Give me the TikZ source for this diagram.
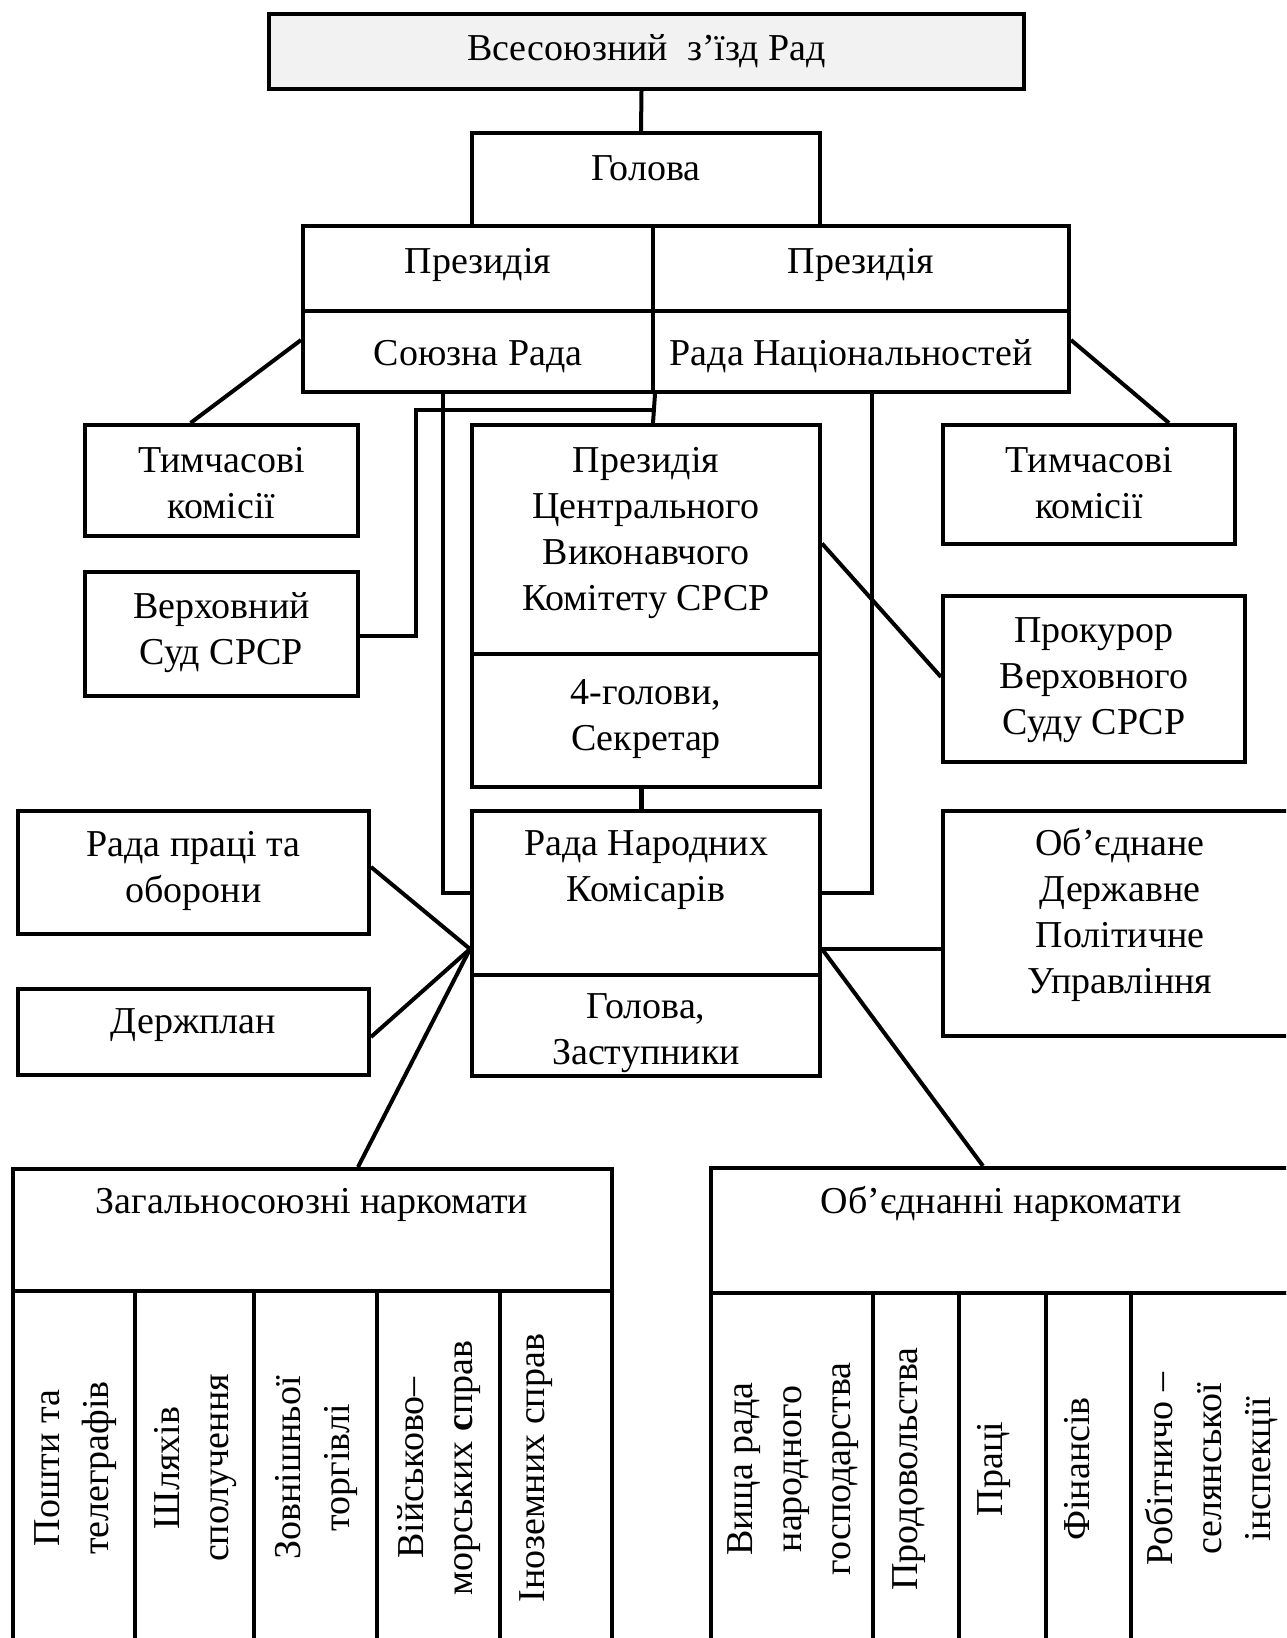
\documentclass[tikz,border=0pt]{standalone}
\usepackage{fontspec}
\setmainfont{Liberation Serif}
\usepackage{graphicx}
\definecolor{topgray}{RGB}{242,242,242}
\newcommand{\mylbl}[2][0pt]{\raisebox{#1}[\height][\depth]{\begin{tabular}{@{}c@{}}#2\end{tabular}}}
\newcommand{\myvlbl}[2][0pt]{\rotatebox{90}{\fontsize{38}{49}\selectfont\mylbl[#1]{#2}}}
\begin{document}
\begin{tikzpicture}[x=1pt,y=-1pt,
  every node/.style={font=\fontsize{38}{46}\selectfont},
  box/.style={draw, line width=4pt, inner sep=0pt},
  conn/.style={line width=4pt}]
\useasboundingbox (0,0) rectangle (1286,1638);
\clip (0,0) rectangle (1286,1638);

\node[box, fill=topgray, minimum width=755pt, minimum height=75pt] (top) at (646.5,51.5) {\mylbl{Всесоюзний\ \ з’їзд Рад}};
\node[box, minimum width=348pt, minimum height=93pt] (golova) at (646,179.5) {\mylbl[8.7pt]{Голова}};
\node[box, minimum width=350pt, minimum height=85pt] (presL) at (478,268.5) {\mylbl[4.5pt]{Президія}};
\node[box, minimum width=416pt, minimum height=85pt] (presR) at (861,268.5) {\mylbl[4.5pt]{Президія}};
\node[box, minimum width=350pt, minimum height=81pt] (soyuz) at (478,351.5) {\mylbl[-5pt]{Союзна Рада}};
\node[box, minimum width=416pt, minimum height=81pt] (nats) at (861,351.5) {\mylbl[-5pt]{Рада Національностей\hspace*{20pt}}};

\node[box, minimum width=273pt, minimum height=111pt] (tymL) at (221.5,480.5) {\mylbl[-6pt]{Тимчасові\\комісії}};
\node[box, minimum width=292pt, minimum height=119pt] (tymR) at (1089,484.5) {\mylbl[-2pt]{Тимчасові\\комісії}};
\node[box, minimum width=273pt, minimum height=124pt] (versud) at (221.5,634) {\mylbl[2pt]{Верховний\\Суд СРСР}};
\node[box, minimum width=348pt, minimum height=229pt] (cvk) at (646,539.5) {\mylbl[7pt]{Президія\\Центрального\\Виконавчого\\Комітету СРСР}};
\node[box, minimum width=348pt, minimum height=133pt] (cvk2) at (646,720.5) {\mylbl[2pt]{4-голови,\\Секретар}};
\node[box, minimum width=302pt, minimum height=166pt] (prok) at (1094,679) {\mylbl{Прокурор\\Верховного\\Суду СРСР}};

\node[box, minimum width=348pt, minimum height=164pt] (rnk) at (646,893) {\mylbl[24pt]{Рада Народних\\Комісарів}};
\node[box, minimum width=348pt, minimum height=101pt] (rnk2) at (646,1025.5) {\mylbl[-6.5pt]{Голова,\\Заступники}};
\node[box, minimum width=351pt, minimum height=123pt] (rpo) at (193.5,872.5) {\mylbl[2pt]{Рада праці та\\оборони}};
\node[box, minimum width=351pt, minimum height=86pt] (derzh) at (193.5,1032) {\mylbl[8pt]{Держплан}};
\node[box, minimum width=354pt, minimum height=225pt] (odpu) at (1120,923.5) {\mylbl[8.7pt]{Об’єднане\\Державне\\Політичне\\Управління}};

\node[box, minimum width=599pt, minimum height=122pt] (zag) at (312,1230) {\mylbl[26pt]{Загальносоюзні наркомати}};
\node[box, minimum width=581pt, minimum height=125pt] (obj) at (1001,1230.5) {\mylbl[26.5pt]{Об’єднанні наркомати}};

\node[box, minimum width=122.5pt, minimum height=354pt] (z1) at (73.75,1468) {\myvlbl{Пошти та\\телеграфів}};
\node[box, minimum width=119pt, minimum height=354pt] (z2) at (194.5,1468) {\myvlbl{Шляхів\\сполучення}};
\node[box, minimum width=123pt, minimum height=354pt] (z3) at (315.5,1468) {\myvlbl{Зовнішньої\\торгівлі}};
\node[box, minimum width=123pt, minimum height=354pt] (z4) at (438.5,1468) {\myvlbl{Військово–\\морських \textbf{с}прав}};
\node[box, minimum width=111.5pt, minimum height=354pt] (z5) at (555.75,1468) {\myvlbl[21pt]{Іноземних справ}};

\node[box, minimum width=162.4pt, minimum height=352pt] (o1) at (791.8,1469) {\myvlbl{Вища рада\\народного\\господарства}};
\node[box, minimum width=85.5pt, minimum height=352pt] (o2) at (915.75,1469) {\myvlbl[8pt]{Продовольства}};
\node[box, minimum width=87.1pt, minimum height=352pt] (o3) at (1002.05,1469) {\myvlbl[9.5pt]{Праці}};
\node[box, minimum width=85.8pt, minimum height=352pt] (o4) at (1088.5,1469) {\myvlbl[9pt]{Фінансів}};
\node[box, minimum width=160.6pt, minimum height=352pt] (o5) at (1211.7,1469) {\myvlbl{Робітничо –\\селянської\\інспекції}};

\draw[conn] ([xshift=-5pt]top.south) -- ([xshift=-5pt]golova.north);
\draw[conn] ([yshift=11.5pt]soyuz.west) -- ([xshift=-31pt]tymL.north);
\draw[conn] ([yshift=11.5pt]nats.east) -- ([xshift=80pt]tymR.north);
\draw[conn] (soyuz.south east) -- ([xshift=7pt]cvk.north);
\coordinate (j1) at (653,410);
\coordinate (vs1) at (416,410);
\draw[conn] ([yshift=-2pt]versud.east) -| (vs1) -- (j1);
\draw[conn] ([xshift=-35pt]soyuz.south) |- (rnk.west);
\draw[conn] ([xshift=11pt]nats.south) |- (rnk.east);
\draw[conn, line width=5pt] ([xshift=-5pt]cvk2.south) -- ([xshift=-5pt]rnk.north);
\draw[conn] ([yshift=-4pt]cvk.east) -- ([yshift=2pt]prok.west);
\coordinate (hubL) at ([yshift=-56pt]rnk.west);
\coordinate (hubR) at ([yshift=-56pt]rnk.east);
\draw[conn] ([yshift=5.5pt]rpo.east) -- (hubL);
\draw[conn] ([yshift=-5pt]derzh.east) -- (hubL);
\draw[conn] (hubL) -- ([xshift=46pt]zag.north);
\draw[conn] (hubR) -- (hubR -| odpu.west);
\draw[conn] (hubR) -- ([xshift=-18pt]obj.north);
\end{tikzpicture}
\end{document}
